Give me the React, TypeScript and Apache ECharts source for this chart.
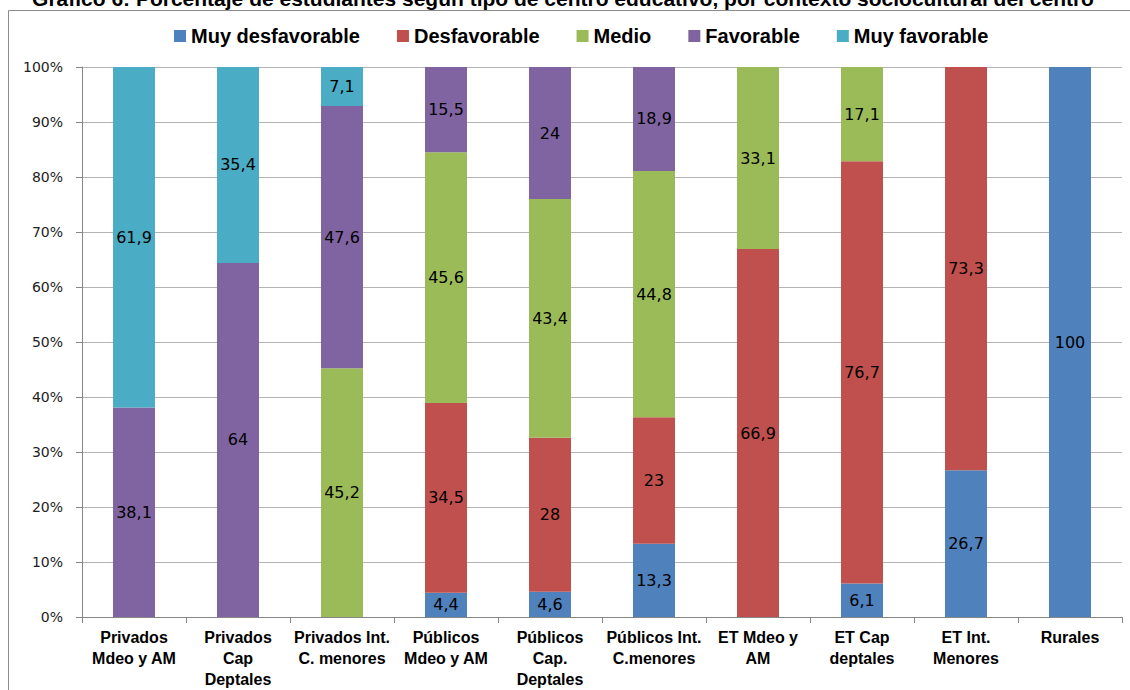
import React, { useEffect, useRef } from "react";
import * as echarts from "echarts";

const categories = [
  "Privados\nMdeo y AM",
  "Privados\nCap\nDeptales",
  "Privados Int.\nC. menores",
  "Públicos\nMdeo y AM",
  "Públicos\nCap.\nDeptales",
  "Públicos Int.\nC.menores",
  "ET Mdeo y\nAM",
  "ET Cap\ndeptales",
  "ET Int.\nMenores",
  "Rurales",
];

const muyDesfavorable = [0, 0, 0, 4.4, 4.6, 13.3, 0, 6.1, 26.7, 100];
const desfavorable = [0, 0, 0, 34.5, 28, 23, 66.9, 76.7, 73.3, 0];
const medio = [0, 0, 45.2, 45.6, 43.4, 44.8, 33.1, 17.1, 0, 0];
const favorable = [38.1, 64, 47.6, 15.5, 24, 18.9, 0, 0, 0, 0];
const muyFavorable = [61.9, 35.4, 7.1, 0, 0, 0, 0, 0, 0, 0];

const seriesNames = ["Muy desfavorable", "Desfavorable", "Medio", "Favorable", "Muy favorable"];
const seriesColors = ["#4F81BD", "#C0504D", "#9BBB59", "#8064A2", "#4BACC6"];
const yTicks = [0, 10, 20, 30, 40, 50, 60, 70, 80, 90, 100];

const title =
  "Gráfico 6: Porcentaje de estudiantes según tipo de centro educativo, por contexto sociocultural del centro";

export default function App() {
  const ref = useRef<HTMLDivElement>(null);
  useEffect(() => {
    document.body.style.margin = "0";
    if (!ref.current) return;
    const chart = echarts.init(ref.current, null, { renderer: "svg" });
    const raw = [muyDesfavorable, desfavorable, medio, favorable, muyFavorable];
    const totals = categories.map((_, i) => raw.reduce((s, arr) => s + arr[i], 0));
    const series = raw.map((arr, si) => ({
      name: seriesNames[si],
      type: "bar",
      stack: "total",
      barWidth: 42,
      itemStyle: { color: seriesColors[si] },
      label: {
        show: true,
        position: "inside",
        color: "#000",
        fontFamily: "DejaVu Sans",
        fontSize: 16,
        formatter: (p: any) => {
          const v = arr[p.dataIndex];
          return v ? String(v).replace(".", ",") : "";
        },
      },
      data: arr.map((v, i) => (v / totals[i]) * 100),
    }));
    chart.setOption({
      animation: false,
      graphic: [
        {
          type: "rect",
          shape: { x: 8.5, y: 10.5, width: 1140, height: 700 },
          style: { fill: "none", stroke: "#8c8c8c", lineWidth: 1 },
          silent: true,
        },
        {
          type: "text",
          x: 563,
          y: 9,
          style: {
            text: title,
            align: "center",
            verticalAlign: "bottom",
            font: "bold 21px 'Liberation Sans'",
            fill: "#000",
          },
        },
      ],
      legend: {
        left: 169,
        top: 21,
        itemWidth: 12,
        itemHeight: 12,
        itemGap: 37,
        icon: "rect",
        data: seriesNames,
        textStyle: { fontFamily: "Liberation Sans", fontWeight: "bold", fontSize: 20, color: "#000" },
      },
      grid: { left: 82, right: 8, top: 67, bottom: 73, containLabel: false },
      xAxis: {
        type: "category",
        data: categories,
        axisLine: { lineStyle: { color: "#868686" } },
        axisTick: { show: true, alignWithLabel: false, length: 6, lineStyle: { color: "#868686" } },
        axisLabel: {
          interval: 0,
          color: "#000",
          fontFamily: "Liberation Sans",
          fontWeight: "bold",
          fontSize: 16,
          lineHeight: 21,
          margin: 10,
        },
      },
      yAxis: {
        type: "value",
        min: 0,
        max: 100,
        interval: 10,
        axisLine: { show: true, lineStyle: { color: "#868686" } },
        axisTick: { show: true, length: 6, lineStyle: { color: "#868686" } },
        splitLine: { lineStyle: { color: "#b3b3b3" } },
        axisLabel: {
          color: "#222",
          fontFamily: "DejaVu Sans",
          fontSize: 14,
          margin: 19,
          formatter: (v: number) => (yTicks.includes(v) ? v + "%" : ""),
        },
      },
      series,
    });
    return () => chart.dispose();
  }, []);
  return <div ref={ref} style={{ width: 1130, height: 690 }} />;
}
